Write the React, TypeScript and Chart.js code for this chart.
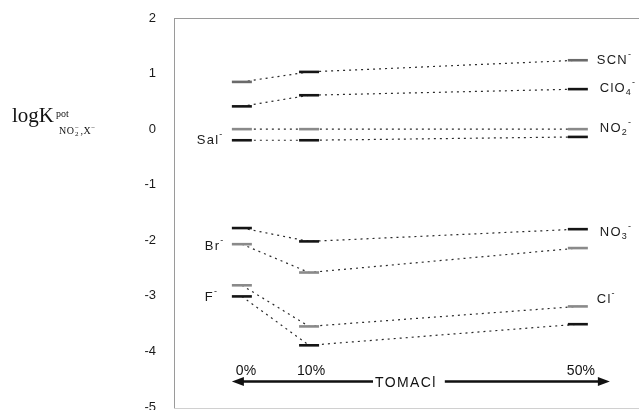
import React, { useEffect, useRef } from 'react';
import { Chart, registerables } from 'chart.js';

Chart.register(...registerables);

// TOMACl content (%) at which each selectivity coefficient was measured
const percents = [0, 10, 50];
const percentLabels = ['0%', '10%', '50%'];

// log K pot values for each interfering anion
const scnValues = [0.85, 1.03, 1.24];
const clo4Values = [0.41, 0.61, 0.72];
const no2Values = [0, 0, 0];
const salValues = [-0.2, -0.2, -0.14];
const no3Values = [-1.78, -2.02, -1.8];
const brValues = [-2.07, -2.58, -2.14];
const clValues = [-2.81, -3.55, -3.19];
const fValues = [-3.01, -3.89, -3.51];

const yTicks = [2, 1, 0, -1, -2, -3, -4, -5];

const BLACK = '#151515';
const GRAY = '#8a8a8a';

type Part = { t: string; sub?: boolean; sup?: boolean };

interface Series {
  values: number[];
  colors: string[];
  label: Part[];
  at: number; // index of point next to which the label sits
  dx: number;
  dy: number;
}

const series: Series[] = [
  { values: scnValues, colors: ['#6a6a6a', BLACK, '#6a6a6a'], label: [{ t: 'SCN' }, { t: '-', sup: true }], at: 2, dx: 19, dy: 0 },
  { values: clo4Values, colors: [BLACK, BLACK, BLACK], label: [{ t: 'ClO' }, { t: '4', sub: true }, { t: '-', sup: true }], at: 2, dx: 22, dy: -1 },
  { values: no2Values, colors: [GRAY, GRAY, GRAY], label: [{ t: 'NO' }, { t: '2', sub: true }, { t: '-', sup: true }], at: 2, dx: 22, dy: -1 },
  { values: salValues, colors: [BLACK, BLACK, BLACK], label: [{ t: 'Sal' }, { t: '-', sup: true }], at: 0, dx: -45, dy: 0 },
  { values: no3Values, colors: [BLACK, BLACK, BLACK], label: [{ t: 'NO' }, { t: '3', sub: true }, { t: '-', sup: true }], at: 2, dx: 22, dy: 3 },
  { values: brValues, colors: [GRAY, GRAY, GRAY], label: [{ t: 'Br' }, { t: '-', sup: true }], at: 0, dx: -37, dy: 2 },
  { values: clValues, colors: [GRAY, GRAY, GRAY], label: [{ t: 'Cl' }, { t: '-', sup: true }], at: 2, dx: 19, dy: -7 },
  { values: fValues, colors: [BLACK, BLACK, BLACK], label: [{ t: 'F' }, { t: '-', sup: true }], at: 0, dx: -37, dy: 1 },
];

const SANS = '"Liberation Sans", Arial, sans-serif';
const SERIF = '"Liberation Serif", "Times New Roman", serif';

function drawRich(ctx: CanvasRenderingContext2D, x: number, y: number, parts: Part[], size: number, spacing: number) {
  ctx.save();
  ctx.textBaseline = 'middle';
  ctx.textAlign = 'left';
  (ctx as any).letterSpacing = spacing + 'px';
  let cx = x;
  for (const p of parts) {
    const s = p.sub || p.sup ? Math.round(size * 0.72) : size;
    ctx.font = `${s}px ${SANS}`;
    const off = p.sup ? -size * 0.42 : p.sub ? size * 0.32 : 0;
    ctx.fillText(p.t, cx, y + off);
    cx += ctx.measureText(p.t).width;
  }
  ctx.restore();
}

const overlayPlugin = {
  id: 'overlay',
  afterDatasetsDraw(chart: any) {
    const ctx: CanvasRenderingContext2D = chart.ctx;
    const xs = chart.scales.x;
    const ys = chart.scales.y;
    const area = chart.chartArea;

    // faint bottom frame line
    ctx.save();
    ctx.strokeStyle = '#d0d0d0';
    ctx.lineWidth = 1;
    ctx.beginPath();
    ctx.moveTo(area.left, area.bottom + 1.5);
    ctx.lineTo(area.right, area.bottom + 1.5);
    ctx.stroke();
    ctx.restore();

    // anion labels
    ctx.save();
    ctx.fillStyle = '#1a1a1a';
    for (const s of series) {
      const px = xs.getPixelForValue(percents[s.at]) + s.dx;
      const py = ys.getPixelForValue(s.values[s.at]) + s.dy;
      drawRich(ctx, px, py, s.label, 13, 1.2);
    }
    ctx.restore();

    // TOMACl arrow
    const ay = ys.getPixelForValue(-4.54);
    const x0 = xs.getPixelForValue(0) - 10;
    const x1 = xs.getPixelForValue(50) + 32;
    ctx.save();
    ctx.font = `14px ${SANS}`;
    (ctx as any).letterSpacing = '1.4px';
    const label = 'TOMACl';
    const tw = ctx.measureText(label).width;
    const tx = 375;
    ctx.strokeStyle = '#111';
    ctx.fillStyle = '#111';
    ctx.lineWidth = 2.4;
    ctx.beginPath();
    ctx.moveTo(x0 + 8, ay);
    ctx.lineTo(tx - 2, ay);
    ctx.moveTo(tx + tw + 8, ay);
    ctx.lineTo(x1 - 8, ay);
    ctx.stroke();
    ctx.beginPath();
    ctx.moveTo(x0, ay);
    ctx.lineTo(x0 + 12, ay - 4.5);
    ctx.lineTo(x0 + 12, ay + 4.5);
    ctx.closePath();
    ctx.fill();
    ctx.beginPath();
    ctx.moveTo(x1, ay);
    ctx.lineTo(x1 - 12, ay - 4.5);
    ctx.lineTo(x1 - 12, ay + 4.5);
    ctx.closePath();
    ctx.fill();
    ctx.textBaseline = 'middle';
    ctx.fillText(label, tx, ay + 2);
    ctx.restore();

    // percent labels
    ctx.save();
    ctx.font = `14px ${SANS}`;
    ctx.fillStyle = '#111';
    ctx.textBaseline = 'middle';
    ctx.textAlign = 'left';
    const pOff = [-6, -12, -11];
    percents.forEach((p, i) => {
      ctx.fillText(percentLabels[i], xs.getPixelForValue(p) + pOff[i], ay - 10);
    });
    ctx.restore();

    // y-axis title: logK pot (NO2-, X-)
    ctx.save();
    ctx.fillStyle = '#111';
    ctx.textBaseline = 'alphabetic';
    ctx.textAlign = 'left';
    ctx.font = `21px ${SERIF}`;
    ctx.fillText('logK', 12, 122);
    const lw = ctx.measureText('logK').width;
    const px0 = 12 + lw + 2;
    ctx.font = `10px ${SERIF}`;
    ctx.fillText('pot', px0, 117);
    let sx = px0 + 3;
    const subY = 134;
    (ctx as any).letterSpacing = '0.5px';
    ctx.font = `10px ${SERIF}`;
    ctx.fillText('NO', sx, subY);
    sx += ctx.measureText('NO').width;
    ctx.font = `7px ${SERIF}`;
    ctx.fillText('\u2212', sx + 0.5, subY - 4);
    ctx.fillText('2', sx + 0.5, subY + 2);
    sx += ctx.measureText('2').width + 2;
    ctx.font = `10px ${SERIF}`;
    ctx.fillText(',X', sx, subY);
    sx += ctx.measureText(',X').width;
    ctx.font = `7px ${SERIF}`;
    ctx.fillText('\u2212', sx, subY - 4);
    ctx.restore();
  },
};

export default function App() {
  const canvasRef = useRef<HTMLCanvasElement | null>(null);

  useEffect(() => {
    document.body.style.margin = '0';
    const canvas = canvasRef.current;
    if (!canvas) return;

    const datasets = series.map((s) => ({
      data: percents.map((p, i) => ({ x: p, y: s.values[i] })),
      showLine: true,
      borderColor: '#2a2a2a',
      borderWidth: 1.2,
      borderDash: [2, 4],
      pointStyle: 'line' as const,
      pointRadius: 10,
      pointHoverRadius: 10,
      pointBorderWidth: 2.6,
      pointHoverBorderWidth: 2.6,
      pointBorderColor: s.colors,
      pointBackgroundColor: s.colors,
      clip: false as any,
    }));

    const chart = new Chart(canvas, {
      type: 'scatter',
      data: { datasets },
      options: {
        animation: false,
        responsive: false,
        devicePixelRatio: 1,
        events: [],
        layout: { autoPadding: false, padding: { top: 18, bottom: 3, left: 0, right: 0 } },
        plugins: { legend: { display: false }, tooltip: { enabled: false } },
        scales: {
          x: {
            type: 'linear',
            position: 'top',
            min: -10.1,
            max: 59.1,
            grid: { display: false, drawTicks: false },
            ticks: { display: false },
            border: { display: true, color: '#9a9a9a', width: 1 },
          },
          y: {
            type: 'linear',
            min: -5,
            max: 2,
            grid: { display: false, drawTicks: false },
            border: { display: true, color: '#9a9a9a', width: 1 },
            afterBuildTicks: (scale: any) => {
              scale.ticks = yTicks.map((v) => ({ value: v }));
            },
            afterFit: (scale: any) => {
              scale.width = 174;
              scale.paddingTop = 0;
              scale.paddingBottom = 0;
            },
            ticks: {
              padding: 18,
              color: '#1a1a1a',
              font: { family: SANS, size: 13 },
              callback: (v: any) => String(v),
            },
          },
        },
      },
      plugins: [overlayPlugin],
    });

    return () => chart.destroy();
  }, []);

  return (
    <div style={{ width: 639, height: 410, background: '#fff' }}>
      <canvas ref={canvasRef} width={639} height={410} />
    </div>
  );
}
